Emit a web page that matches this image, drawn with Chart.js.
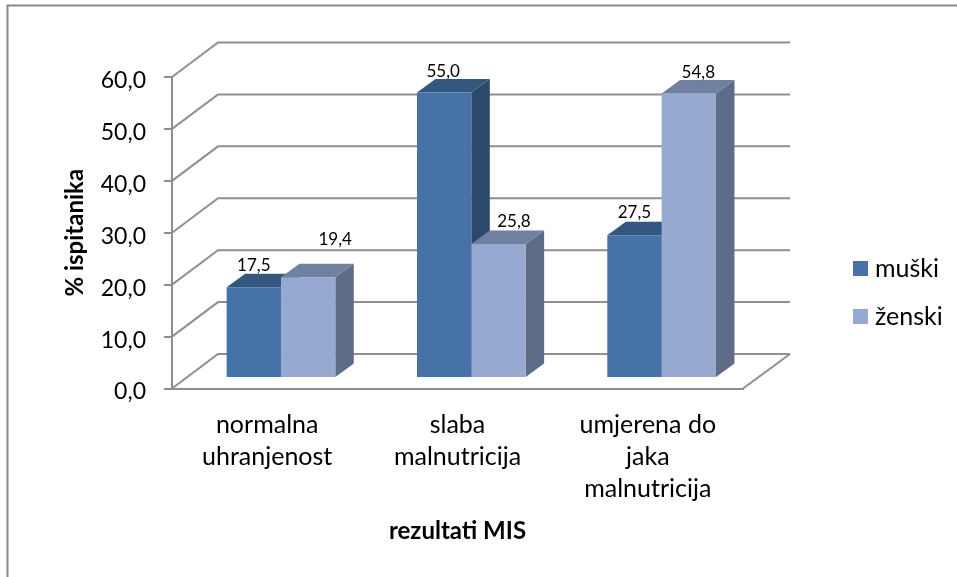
<!DOCTYPE html>
<html><head><meta charset="utf-8">
<style>html,body{margin:0;padding:0;background:#fff}canvas{display:block}</style>
<script src="https://cdn.jsdelivr.net/npm/chart.js@4"></script>
</head><body>
<div style="width:957px;height:577px"><canvas id="c" width="957" height="577"></canvas></div>
<script>
const categories = [['normalna','uhranjenost'],['slaba','malnutricija'],['umjerena do','jaka','malnutricija']];
const muski = [17.5, 55.0, 27.5];
const zenski = [19.4, 25.8, 54.8];
const seriesNames = ['muški','ženski'];
const yTitle = '% ispitanika';
const xTitle = 'rezultati MIS';

const FONT = 'Lato, Carlito, Calibri, sans-serif';
const GRID = '#8f8f8f';
const GRID_W = 2;
const fronts = ['#4672A8','#95A9D1'];
const tops = ['#33577F','#6F80A0'];
const sides = ['#2B496D','#5E6C87'];
const WALL = {dx:46, dy:-34.5};
const BAR_SHIFT = {x:13.8, y:-10.5};
const BAR_DEPTH = {dx:18.5, dy:-13.5};
// nudges of the value labels, as placed by hand in the original
const labelNudge = [[[0,-2],[-1,-1],[0,-3]],[[27,-18],[15.5,-3],[9.5,-1]]];

const fmt = v => Number(v).toFixed(1).replace('.',',');
function swatch(color){
  const s=document.createElement('canvas');s.width=15;s.height=15;
  const g=s.getContext('2d');g.fillStyle=color;g.fillRect(0,0,15,15);return s;
}
function poly(ctx,pts,color){
  ctx.fillStyle=color;ctx.beginPath();
  pts.forEach((p,i)=>i?ctx.lineTo(p[0],p[1]):ctx.moveTo(p[0],p[1]));
  ctx.closePath();ctx.fill();
}
const frame = {
  id:'frame',
  beforeDraw(chart){
    const c=chart.ctx;c.save();c.fillStyle='#fff';c.fillRect(0,0,chart.width,chart.height);
    c.strokeStyle='#878787';c.lineWidth=2;c.beginPath();
    c.moveTo(7.5,chart.height);c.lineTo(7.5,5.5);c.lineTo(chart.width,5.5);c.stroke();c.restore();
  },
  afterLayout(chart){
    const l=chart.legend;
    l.left=835.5;l.right=950;l.top=233;l.bottom=360;
    chart.scales.y.getLabelItems().forEach(it=>{it.options.translation[1]+=3.5});
  },
  beforeDatasetsDraw(chart){
    const c=chart.ctx,{x,y}=chart.scales,a=chart.chartArea;
    c.save();c.strokeStyle=GRID;c.lineWidth=GRID_W;
    y.ticks.forEach(t=>{
      const py=y.getPixelForValue(t.value);
      c.beginPath();c.moveTo(a.left,py);c.lineTo(a.left+WALL.dx,py+WALL.dy);c.lineTo(a.right+WALL.dx+1,py+WALL.dy);c.stroke();
    });
    const py=y.getPixelForValue(0);
    c.beginPath();c.moveTo(a.right,py);c.lineTo(a.right+WALL.dx+1,py+WALL.dy);c.stroke();
    c.restore();
    c.save();c.translate(BAR_SHIFT.x,BAR_SHIFT.y);
    [0,1].forEach(ds=>{
      chart.getDatasetMeta(ds).data.forEach(el=>{
        const l=el.x-el.width/2,r=el.x+el.width/2,t=el.y,b=el.base,{dx,dy}=BAR_DEPTH;
        poly(c,[[r,t],[r+dx,t+dy],[r+dx,b+dy],[r,b]],sides[ds]);
        poly(c,[[l,t],[l+dx,t+dy],[r+dx,t+dy],[r,t]],tops[ds]);
      });
    });
  },
  afterDatasetsDraw(chart){
    const c=chart.ctx;c.restore();
    c.save();c.font='17px '+FONT;c.fillStyle='#000';c.textAlign='center';c.textBaseline='middle';
    [0,1].forEach(ds=>{
      chart.getDatasetMeta(ds).data.forEach((el,i)=>{
        const n=labelNudge[ds][i];
        c.fillText(fmt(chart.data.datasets[ds].data[i]),el.x+BAR_SHIFT.x+n[0],el.y+BAR_SHIFT.y+BAR_DEPTH.dy+n[1]-6);
      });
    });
    c.restore();
  }
};
new Chart(document.getElementById('c'),{
  type:'bar',
  data:{labels:categories,datasets:[
    {label:seriesNames[0],data:muski,backgroundColor:fronts[0],clip:false},
    {label:seriesNames[1],data:zenski,backgroundColor:fronts[1],clip:false}
  ]},
  plugins:[frame],
  options:{
    responsive:false,animation:false,
    layout:{padding:{left:0,top:77,right:214,bottom:31.5}},
    datasets:{bar:{categoryPercentage:0.571,barPercentage:1}},
    plugins:{
      tooltip:{enabled:false},
      legend:{position:'chartArea',align:'start',labels:{
        font:{family:FONT,size:25},color:'#000',usePointStyle:true,pointStyleWidth:4,boxHeight:15,padding:23,
        generateLabels:ch=>ch.data.datasets.map((d,i)=>({text:d.label,fillStyle:d.backgroundColor,strokeStyle:d.backgroundColor,lineWidth:0,pointStyle:swatch(d.backgroundColor),datasetIndex:i,hidden:false}))
      }}
    },
    scales:{
      x:{
        afterFit:s=>{s.height=157},
        grid:{display:false},
        border:{display:true,color:GRID,width:GRID_W},
        ticks:{font:{family:FONT,size:25,lineHeight:1.28},color:'#000',padding:12,maxRotation:0,autoSkip:false},
        title:{display:true,text:xTitle,font:{family:FONT,size:24,weight:'bold'},color:'#000',padding:{top:10,bottom:0}}
      },
      y:{
        min:0,max:60,
        afterFit:s=>{s.width=172},
        grid:{drawOnChartArea:false,color:GRID,lineWidth:GRID_W,tickLength:8},
        border:{display:true,color:GRID,width:GRID_W},
        ticks:{stepSize:10,font:{family:FONT,size:23},color:'#000',padding:18,callback:v=>fmt(v)},
        title:{display:true,text:yTitle,font:{family:FONT,size:24,weight:'bold'},color:'#000',padding:{top:60.6,bottom:0}}
      }
    }
  }
});
</script>
</body></html>
